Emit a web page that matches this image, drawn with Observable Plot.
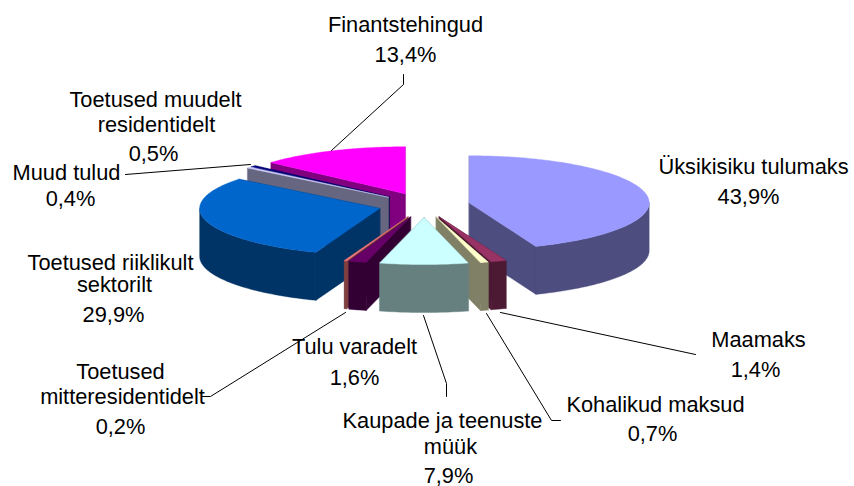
<!DOCTYPE html>
<html><head><meta charset="utf-8">
<script src="https://cdn.jsdelivr.net/npm/d3@7"></script>
<script src="https://cdn.jsdelivr.net/npm/@observablehq/plot@0.6"></script>
<style>html,body{margin:0;padding:0;background:#fff}svg{display:block}</style>
</head><body><div id="chart"></div>
<script>
const categories = ["Üksikisiku tulumaks","Maamaks","Kohalikud maksud","Kaupade ja teenuste müük","Tulu varadelt","Toetused mitteresidentidelt","Toetused riiklikult sektorilt","Muud tulud","Toetused muudelt residentidelt","Finantstehingud"];
const shares = [43.9,1.4,0.7,7.9,1.6,0.2,29.9,0.4,0.5,13.4];
const topColors = ["#9999FF","#993366","#FFFFCC","#CCFFFF","#660066","#FF8080","#0066CC","#CCCCFF","#000080","#FF00FF"];
const sideColors = ["#4D4D80","#4C1A33","#808066","#668080","#330033","#804040","#003366","#666680","#000040","#800080"];
const paintOrder = [9,8,7,6,0,5,4,1,2,3];
// pie geometry
const cx=423.5, cy=204.6, rx=180, ry=47, depth=48, explode=46, tilt=0.27;
const total = d3.sum(shares);
let cum=0;
const slices = shares.map((v,i)=>{const a0=cum/total*2*Math.PI; cum+=v; const a1=cum/total*2*Math.PI; const m=(a0+a1)/2;
  return {i,a0,a1,ax:cx+explode*Math.sin(m),ay:cy-explode*tilt*Math.cos(m)};});
const arc=(s,a0,a1,dy=0)=>{const n=Math.max(2,Math.ceil((a1-a0)/0.02));return d3.range(n+1).map(k=>{const a=a0+(a1-a0)*k/n;return {x:s.ax+rx*Math.sin(a),y:s.ay-ry*Math.cos(a)+dy};});};
const face=(pts,fill)=>Plot.line(pts,{x:"x",y:"y",fill,stroke:fill,strokeWidth:0.4,curve:"linear-closed"});
const marks=[];
for(const idx of paintOrder){const s=slices[idx];const apex={x:s.ax,y:s.ay},apexB={x:s.ax,y:s.ay+depth};const side=sideColors[idx];
  const p0=arc(s,s.a0,s.a0)[0],p1=arc(s,s.a1,s.a1)[0];
  marks.push(face([apex,p0,{x:p0.x,y:p0.y+depth},apexB],side));
  marks.push(face([apex,p1,{x:p1.x,y:p1.y+depth},apexB],side));
  const f0=Math.max(s.a0,Math.PI/2),f1=Math.min(s.a1,3*Math.PI/2);
  if(f1>f0){marks.push(face([...arc(s,f0,f1),...arc(s,f0,f1,depth).reverse()],side));}
  marks.push(face([apex,...arc(s,s.a0,s.a1)],topColors[idx]));
}
// leader lines
const leaders=[
 [[331,150],[403,84],[403,74]],
 [[125,174],[250,164]],
 [[500,312],[695,354]],
 [[486,313],[551,420],[560,420]],
 [[423,315],[446,383],[446,396]],
 [[345,312],[210,396],[201,396]]
];
for(const l of leaders) marks.push(Plot.line(l,{x:d=>d[0],y:d=>d[1],stroke:"#000",strokeWidth:1}));
// labels
const labelText=["Finantstehingud","13,4%","Toetused muudelt","residentidelt","0,5%","Muud tulud","0,4%","Üksikisiku tulumaks","43,9%","Toetused riiklikult","sektorilt","29,9%","Maamaks","1,4%","Kohalikud maksud","0,7%","Kaupade ja teenuste","müük","7,9%","Tulu varadelt","1,6%","Toetused","mitteresidentidelt","0,2%"];
const labelX=[405,405,155,156,153,66,70,753,748,110,114,113,758,755,655,652,442,450,448,354,354,120,122,120];
const labelY=[25,55,100,125,154,173,199,167,197,263,285,315,340,370,405,434,421,447,476,347,378,372,397,427];
marks.push(Plot.text(labelText,{x:(d,i)=>labelX[i],y:(d,i)=>labelY[i],text:d=>d,fontSize:21.8,fill:"#000",fontFamily:"Liberation Sans",textAnchor:"middle",lineAnchor:"middle"}));
const chart=Plot.plot({width:854,height:486,margin:0,style:{background:"#fff"},
  x:{domain:[0,854],range:[0,854],axis:null},y:{domain:[0,486],range:[0,486],axis:null},marks});
document.getElementById("chart").append(chart);
</script></body></html>
